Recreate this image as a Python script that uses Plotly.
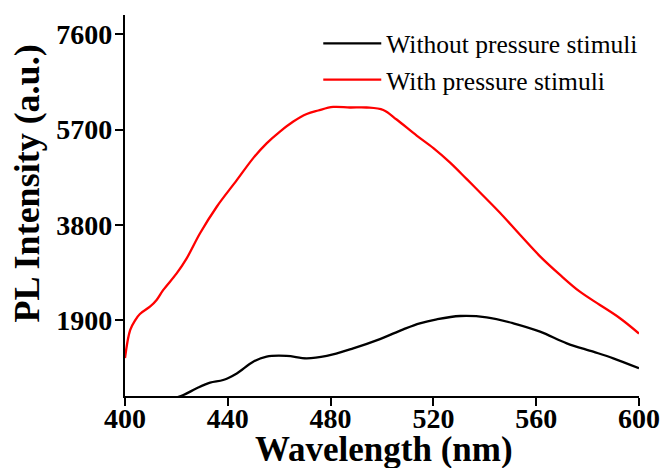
import plotly.graph_objects as go

# PL emission spectra (wavelength in nm, intensity in a.u.)
wl_with = [400, 402, 404, 405.8, 409.7, 412.3, 414.9, 420.1, 424, 429.2, 435.7, 443.5,
           449.9, 455.1, 460.3, 465.5, 470.7, 475.2, 481, 487.5, 494, 500.5, 505.7,
           513.5, 520, 526.5, 533, 539.4, 545.9, 553.7, 561.5, 569.3, 577, 584.8,
           592.6, 600]
pl_with = [1140, 1700, 1900, 2020, 2165, 2300, 2500, 2830, 3130, 3630, 4160, 4690,
           5130, 5425, 5660, 5860, 6010, 6080, 6150, 6140, 6140, 6090, 5900,
           5580, 5330, 5040, 4710, 4380, 4040, 3600, 3170, 2800, 2465, 2200,
           1935, 1630]

wl_without = [400, 410, 418, 422.7, 427.9, 433.1, 438.2, 443.5, 449.9, 455.1, 462.9,
              470.7, 478.5, 488.8, 499.2, 508.3, 514.7, 521.3, 530.4, 540.7, 551.1,
              561.5, 571.9, 582.2, 590, 600]
pl_without = [120, 210, 320, 404, 537, 650, 703, 835, 1068, 1170, 1184,
              1136, 1184, 1335, 1520, 1714, 1834, 1914, 1980, 1954, 1834,
              1667, 1435, 1268, 1136, 937]

x_ticks = [400, 440, 480, 520, 560, 600]
y_ticks = [1900, 3800, 5700, 7600]

serif = "Liberation Serif, Times New Roman, serif"

fig = go.Figure()
fig.add_trace(go.Scatter(x=wl_without, y=pl_without, mode="lines",
                         name="Without pressure stimuli",
                         line=dict(color="black", width=2.3, shape="spline")))
fig.add_trace(go.Scatter(x=wl_with, y=pl_with, mode="lines",
                         name="With pressure stimuli",
                         line=dict(color="red", width=2.3, shape="spline")))

axis_common = dict(showline=True, linecolor="black", linewidth=2.2,
                   ticks="outside", ticklen=8, tickwidth=2.2, tickcolor="black",
                   showgrid=False, zeroline=False, automargin=False,
                   tickfont=dict(family=serif, size=28, color="black", weight="bold"))

fig.update_xaxes(range=[400, 600], tickvals=x_ticks, ticklabelstandoff=-12,
                 **axis_common)
fig.update_yaxes(range=[384, 7985], tickvals=y_ticks, ticklabelstandoff=-3,
                 **axis_common)

fig.add_annotation(text="Wavelength (nm)", xref="paper", yref="paper",
                   x=0.504, y=0, yanchor="middle", yshift=-53, showarrow=False,
                   font=dict(family=serif, size=35, color="black", weight="bold"))
fig.add_annotation(text="PL Intensity (a.u.)", xref="paper", yref="paper",
                   x=0, y=0.558, xanchor="center", xshift=-98, textangle=-90,
                   showarrow=False,
                   font=dict(family=serif, size=36, color="black", weight="bold"))

fig.update_layout(
    width=664, height=468,
    margin=dict(l=125, r=25, t=15, b=72),
    plot_bgcolor="white", paper_bgcolor="white",
    showlegend=True,
    legend=dict(x=0.376, y=0.986, xanchor="left", yanchor="top",
                bgcolor="rgba(0,0,0,0)", borderwidth=0,
                itemwidth=58, tracegroupgap=0,
                font=dict(family=serif, size=25.5, color="black")),
)

fig.write_html("out.html")
